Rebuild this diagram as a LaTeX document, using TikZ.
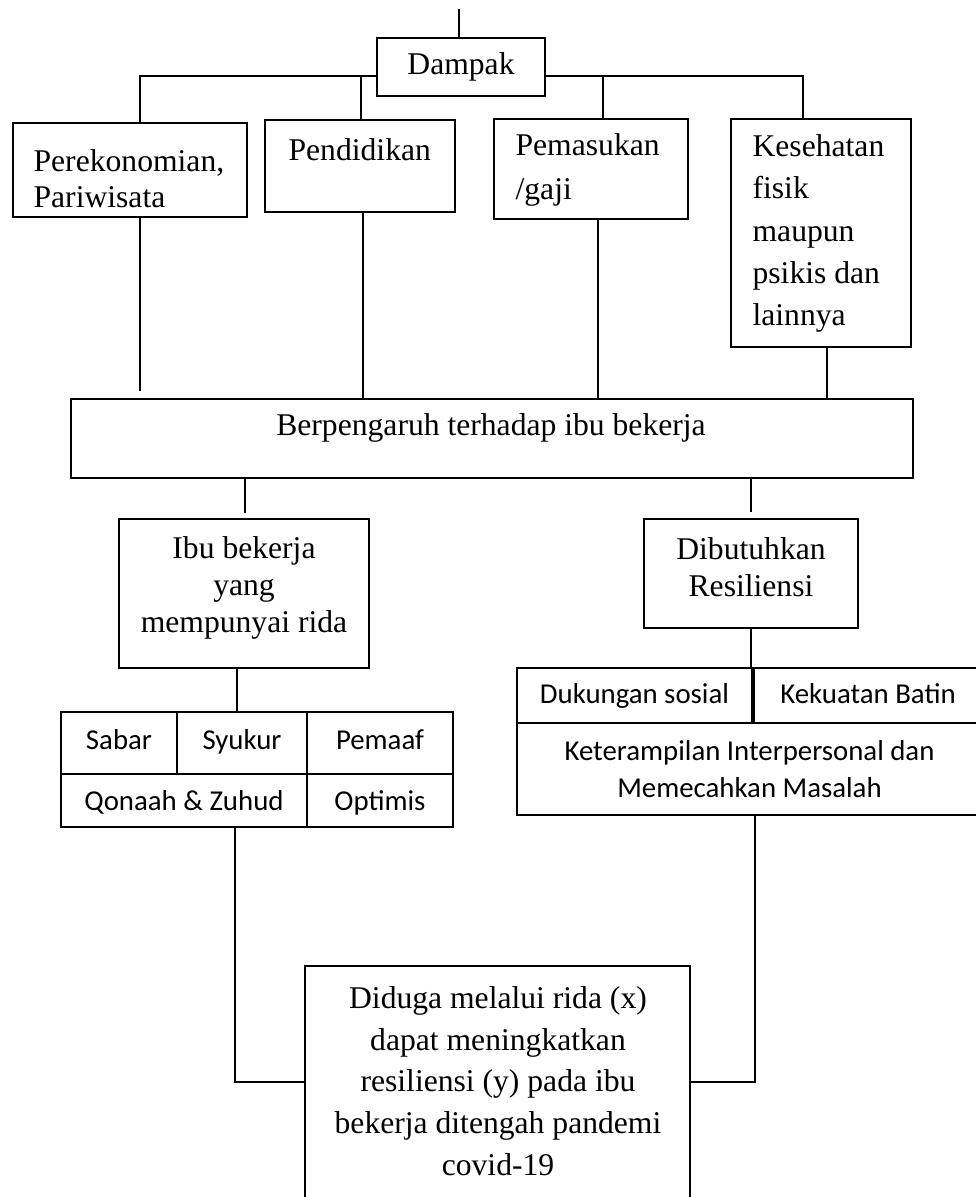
\documentclass[tikz,border=0pt]{standalone}
\usepackage{fontspec}
\setmainfont{Liberation Serif}
\newfontfamily\calibri{Carlito}
\usepackage{tikz}
\tikzstyle{box}=[draw,rectangle,inner sep=0pt,line width=0.7pt]
\tikzstyle{txt}=[inner sep=0pt,font=\fontsize{18}{24}\selectfont]
\tikzstyle{cell}=[draw,rectangle,inner sep=0pt,line width=0.7pt,font=\calibri\fontsize{16.4}{21.5}\selectfont]
\tikzstyle{cell1}=[cell,text height=0.9em,text depth=0.12em]

\begin{document}
\begin{tikzpicture}[x=0.02cm,y=-0.02cm,line width=0.7pt]
  \useasboundingbox (0,0) rectangle (976,1197);
  \node[box,txt,minimum width=3.36cm,minimum height=1.16cm] (dampak) at (461,67) {Dampak};
  \node[box,minimum width=4.68cm,minimum height=1.88cm] (eko) at (130,170) {};
  \node[txt,align=left,anchor=west,font=\fontsize{18}{20.4}\selectfont] (eko-t) at (33,179) {Perekonomian,\\Pariwisata};
  \node[box,minimum width=3.8cm,minimum height=1.84cm] (didik) at (360,166) {};
  \node[txt,anchor=west] (didik-t) at (288,150) {Pendidikan};
  \node[box,minimum width=3.88cm,minimum height=2cm] (gaji) at (591,169) {};
  \node[txt,align=left,anchor=west,font=\fontsize{18}{25}\selectfont] (gaji-t) at (515,170) {Pemasukan\\/gaji};
  \node[box,minimum width=3.6cm,minimum height=4.56cm] (sehat) at (821,233) {};
  \node[txt,align=left,anchor=west] (sehat-t) at (752,233.5) {Kesehatan\\fisik\\maupun\\psikis dan\\lainnya};
  \node[box,minimum width=16.84cm,minimum height=1.58cm] (efek) at (492,438.5) {};
  \node[txt] (efek-t) at (491,428) {Berpengaruh terhadap ibu bekerja};
  \node[box,minimum width=5cm,minimum height=2.98cm] (rida) at (244,593.5) {};
  \node[txt,align=center,font=\fontsize{18}{21}\selectfont] (rida-t) at (244,588) {Ibu bekerja\\yang\\mempunyai rida};
  \node[box,minimum width=4.28cm,minimum height=2.18cm] (resil) at (751,573.5) {};
  \node[txt,align=center,font=\fontsize{18}{21}\selectfont] (resil-t) at (751,567.5) {Dibutuhkan\\Resiliensi};
  % sikap rida
  \node[cell1,minimum width=2.32cm,minimum height=1.24cm] (sabar) at (119,743) {Sabar};
  \node[cell1,minimum width=2.6cm,minimum height=1.24cm] (syukur) at (242,743) {Syukur};
  \node[cell1,minimum width=2.92cm,minimum height=1.24cm] (maaf) at (380,743) {Pemaaf};
  \node[cell1,text height=1.2em,text depth=0.1em,minimum width=4.92cm,minimum height=1.06cm] (qonaah) at (184,800.5) {Qonaah \& Zuhud};
  \node[cell1,text height=1.2em,text depth=0.1em,minimum width=2.92cm,minimum height=1.06cm] (optimis) at (380,800.5) {Optimis};
  % faktor resiliensi
  \node[cell1,text height=1.06em,text depth=0.1em,minimum width=4.7cm,minimum height=1.1cm] (sosial) at (634.5,695.5) {Dukungan sosial};
  \node[cell1,text height=1.06em,text depth=0.1em,minimum width=4.56cm,minimum height=1.1cm] (batin) at (868,695.5) {Kekuatan Batin};
  \node[cell,align=center,minimum width=9.3cm,minimum height=1.84cm] (terampil) at (749.5,769) {Keterampilan Interpersonal dan\\Memecahkan Masalah};
  \node[box,minimum width=7.7cm,minimum height=5.28cm] (hasil) at (497.5,1098) {};
  \node[txt,align=center,font=\fontsize{18}{23.8}\selectfont] (hasil-t) at (498,1081) {Diduga melalui rida (x)\\dapat meningkatkan\\resiliensi (y) pada ibu\\bekerja ditengah pandemi\\covid-19};

  \coordinate (top) at (459,9);
  \coordinate (busL) at (140,76);
  \coordinate (busR) at (803,76);
  \coordinate (b2) at (361,76);
  \coordinate (b3) at (603,76);
  \draw (top) -- (top |- dampak.north);
  \draw (dampak.west |- busL) -- (busL) -- (busL |- eko.north);
  \draw (dampak.east |- busR) -- (busR) -- (busR |- sehat.north);
  \draw (b2) -- (b2 |- didik.north);
  \draw (b3) -- (b3 |- gaji.north);

  \coordinate (d1) at (140,391);
  \coordinate (d2) at (363,300);
  \coordinate (d3) at (598,300);
  \coordinate (d4) at (827,300);
  \draw (d1 |- eko.south) -- (d1);
  \draw (d2 |- didik.south) -- (d2 |- efek.north);
  \draw (d3 |- gaji.south) -- (d3 |- efek.north);
  \draw (d4 |- sehat.south) -- (d4 |- efek.north);

  \coordinate (e1) at (245,513);
  \coordinate (e2) at (751,512);
  \coordinate (r1) at (237,700);
  \draw (e1 |- efek.south) -- (e1);
  \draw (e2 |- efek.south) -- (e2);
  \draw (r1 |- rida.south) -- (r1 |- syukur.north);
  \draw (resil.south) -- (resil.south |- sosial.north);

  \coordinate (jL) at (235,1082);
  \coordinate (jR) at (755,1082);
  \draw (jL |- qonaah.south) -- (jL) -- (jL -| hasil.west);
  \draw (jR |- terampil.south) -- (jR) -- (jR -| hasil.east);
\end{tikzpicture}
\end{document}
